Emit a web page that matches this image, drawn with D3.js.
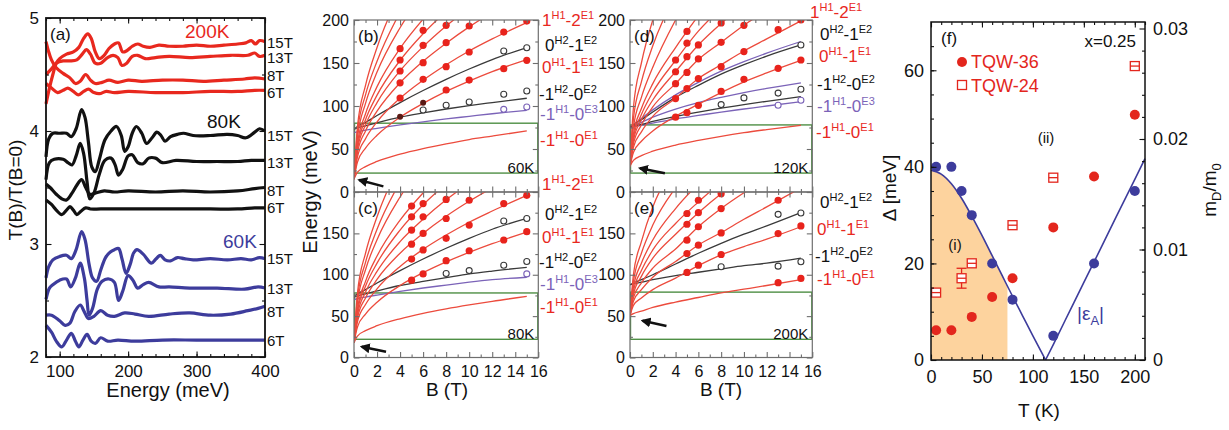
<!DOCTYPE html>
<html>
<head>
<meta charset="utf-8">
<script src="https://d3js.org/d3.v7.min.js"></script>
<style>
body { margin: 0; background: #fff; }
svg text { font-family: Arial, "Liberation Sans", Helvetica, sans-serif; }
</style>
</head>
<body>
<div class="demo"></div>
<script>
// ---------- panel (a) : T(B)/T(B=0) spectra, [energy meV, value] ----------
var s200_15 = [[80,4.24],[85,4.38],[90,4.5],[95,4.6],[100,4.64],[110,4.68],[120,4.7],[128,4.74],[135,4.82],[141,4.86],[146,4.82],[152,4.7],[158,4.64],[165,4.67],[172,4.73],[180,4.77],[186,4.78],[192,4.7],[198,4.71],[206,4.75],[214,4.77],[222,4.75],[232,4.74],[245,4.76],[260,4.75],[280,4.75],[300,4.76],[320,4.75],[340,4.76],[360,4.77],[372,4.78],[380,4.8],[386,4.77],[392,4.8],[400,4.79]];
var s200_13 = [[80,4.5],[88,4.55],[95,4.6],[105,4.62],[115,4.62],[125,4.63],[133,4.68],[139,4.72],[145,4.68],[152,4.6],[160,4.6],[170,4.65],[178,4.67],[185,4.65],[191,4.58],[198,4.6],[206,4.66],[214,4.67],[225,4.64],[240,4.65],[260,4.66],[290,4.65],[320,4.66],[350,4.67],[375,4.67],[385,4.69],[392,4.66],[400,4.67]];
var s200_8 = [[80,4.79],[83,4.72],[88,4.63],[95,4.56],[105,4.51],[115,4.47],[123,4.42],[130,4.44],[138,4.5],[145,4.45],[152,4.42],[162,4.43],[172,4.45],[185,4.43],[200,4.45],[220,4.44],[250,4.45],[280,4.45],[310,4.44],[340,4.45],[370,4.46],[385,4.47],[400,4.46]];
var s200_6 = [[80,4.42],[88,4.38],[97,4.34],[105,4.36],[112,4.38],[120,4.35],[127,4.32],[135,4.35],[142,4.37],[150,4.34],[158,4.33],[168,4.35],[180,4.34],[200,4.35],[240,4.34],[280,4.34],[320,4.35],[360,4.35],[385,4.36],[400,4.36]];
var s80_15 = [[80,3.77],[84,3.93],[90,3.98],[100,3.98],[110,3.98],[117,3.95],[124,4.02],[132,4.19],[137,4.12],[142,3.9],[147,3.68],[152,3.64],[158,3.75],[166,3.92],[175,4.0],[183,4.04],[190,3.96],[195,3.82],[200,3.86],[206,3.98],[212,4.04],[220,3.98],[227,3.89],[235,3.94],[242,3.99],[248,3.96],[254,3.91],[262,3.95],[272,3.97],[281,3.98],[295,3.96],[320,3.96],[345,3.97],[360,3.96],[372,3.94],[385,3.99],[392,4.02],[400,4.0]];
var s80_13 = [[80,3.57],[85,3.72],[92,3.75],[105,3.75],[112,3.72],[118,3.7],[124,3.78],[130,3.89],[135,3.8],[140,3.55],[144,3.4],[150,3.45],[158,3.62],[166,3.74],[175,3.76],[181,3.7],[186,3.61],[192,3.66],[200,3.78],[206,3.79],[214,3.72],[222,3.71],[230,3.76],[240,3.76],[250,3.72],[270,3.74],[300,3.73],[330,3.73],[360,3.73],[380,3.74],[400,3.74]];
var s80_8 = [[80,3.53],[86,3.5],[95,3.44],[103,3.4],[110,3.39],[118,3.45],[125,3.52],[132,3.57],[138,3.5],[144,3.44],[152,3.45],[165,3.47],[180,3.46],[200,3.47],[240,3.46],[280,3.47],[320,3.46],[360,3.47],[385,3.49],[400,3.5]];
var s80_6 = [[80,3.39],[88,3.35],[95,3.3],[103,3.26],[110,3.3],[115,3.33],[120,3.3],[125,3.26],[131,3.29],[138,3.32],[145,3.31],[160,3.31],[200,3.31],[260,3.31],[320,3.31],[360,3.31],[385,3.32],[400,3.32]];
var s60_15 = [[80,2.7],[84,2.8],[90,2.86],[100,2.89],[110,2.9],[117,2.87],[124,2.95],[132,3.11],[137,3.04],[143,2.82],[148,2.7],[154,2.67],[160,2.77],[167,2.88],[174,2.93],[180,2.95],[186,2.96],[191,2.87],[197,2.74],[203,2.82],[208,2.92],[213,2.95],[222,2.91],[234,2.83],[241,2.87],[247,2.9],[254,2.86],[262,2.85],[272,2.88],[282,2.87],[295,2.86],[320,2.87],[345,2.86],[365,2.87],[380,2.86],[392,2.88],[400,2.87]];
var s60_13 = [[80,2.51],[85,2.61],[90,2.64],[100,2.68],[110,2.69],[116,2.62],[123,2.7],[130,2.83],[136,2.7],[140,2.5],[143,2.37],[148,2.43],[155,2.6],[162,2.67],[172,2.69],[180,2.66],[186,2.5],[192,2.58],[200,2.72],[207,2.68],[214,2.61],[222,2.64],[230,2.66],[245,2.62],[260,2.62],[290,2.61],[330,2.61],[370,2.6],[390,2.62],[400,2.61]];
var s60_8 = [[80,2.37],[88,2.37],[100,2.32],[108,2.28],[115,2.3],[122,2.4],[130,2.46],[136,2.4],[142,2.34],[150,2.36],[160,2.41],[170,2.37],[180,2.36],[195,2.39],[210,2.38],[230,2.36],[260,2.38],[290,2.39],[320,2.37],[350,2.38],[375,2.41],[390,2.43],[400,2.45]];
var s60_6 = [[80,2.28],[88,2.22],[95,2.14],[103,2.09],[110,2.15],[117,2.21],[123,2.14],[128,2.09],[134,2.15],[140,2.2],[146,2.14],[152,2.12],[160,2.17],[170,2.14],[185,2.15],[210,2.14],[250,2.15],[300,2.15],[350,2.15],[380,2.15],[400,2.15]];
var aFieldLabels = ['15T', '13T', '8T', '6T'];
var aTempLabels = ['200K', '80K', '60K'];

// ---------- panels (b)-(e) : Landau level transitions ----------
var Bgrid = [0, 0.3, 1, 2, 4, 6, 8, 10, 12, 15];
var Bticks = [0, 2, 4, 6, 8, 10, 12, 14, 16];
var Eticks = [0, 50, 100, 150, 200];

// (b) 60K
var fan60 = [[15,23,29.5,35.5,44,50.5,56,61,65,71],[15,34.7,51,66,87,103,117,129,140,154],[15,40.8,62,81.5,109,130,148,164,178,197],[15,45.7,71,94,127,152,173,192,209],[15,49.5,78,104,141,169,193,214],[15,52.8,84,112.6,153,184,210],[15,56.6,91,122.5,167,201],[15,63,103,139.5,191,230.5],[15,70,113,152,209],[15,76,124,168,232]];
var black60 = [[73,76,81,89,104,118,131,143,154,168],[73,74.5,77,80.5,87,92,96.5,100.5,104,109]];
var purple60 = [[69,70,72,74,78,81.5,85,88,91,95]];
var dots60 = [[4,166.7],[4,153.5],[4,140.7],[4,127],[4,109.3],[6,188],[6,170.5],[6,150.4],[6,131],[8,193.8],[8,173.6],[8,145.7],[8,118.6],[10,193],[10,162.8],[10,130.2],[13,186],[13,143.4],[15,198.8],[15,153.1]];
var dark60 = [[4,87.6],[6,103.9]];
var open60 = [[6,95.3],[8,100.8],[10,104.7],[13,164],[13,113.6],[15,167.8],[15,117.4]];
var openP60 = [[13,96.1],[15,98.8]];
var box60 = [22, 80];
var arrow60 = [[2.55, 6.5], [0.45, 14]];

// (c) 80K
var fan80 = [[18,25.9,32.4,38.4,46.8,53.3,58.7,63.5,67.9,73.8],[18,36.9,52.5,66.8,87,102.5,115.6,127,137.5,151.6],[18,43.2,64,83,110,130.7,148,163.5,177,196],[18,47.6,72,94.4,126,150,170.7,188.8,205],[18,51.4,79,104,140,167,190.5,211],[18,55.3,86,114,154,184.5,210],[18,58.6,92,122.6,166,199,227],[18,66,106,142.4,194,233.5],[18,72,115,155,212],[18,78,126,170,235]];
var black80 = [[74,77,82,90,105,119,132,144,155,168],[73,74.5,77,80.5,87,92,96.5,101,104.5,109]];
var purple80 = [[70,71,73,75.5,80,84,87.5,91,94,97]];
var dots80 = [[5,183],[5,170],[5,154],[5,137],[5,119],[5,93.5],[6,186],[6,170],[6,150],[6,130],[6,101],[8,191],[8,168],[8,144],[8,117],[10,190],[10,160],[10,129],[13,186],[13,142],[15,196],[15,152]];
var dark80 = [];
var open80 = [[8,101.5],[10,105],[13,165],[13,111.4],[15,168],[15,116]];
var openP80 = [[15,101]];
var box80 = [22, 78];
var arrow80 = [[2.78, 7], [0.67, 13]];

// (d) 120K
var fan120 = [[30,36.7,42.3,47.4,54.6,60,64.8,69,72.6,77.6],[30,46,59,71,88,102,115.5,128,138.5,153],[30,52,70,88,109,132,148,164,178,199],[30,56,78,99,126,154,174,194,211],[30,60,84,107,140,171,196,218],[30,63,90,116,153,187,214],[30,67,97,126,168,205],[30,75,110,145,200],[30,85,128,170,230],[30,98,150,200]];
var black120 = [[75,78,84,93,110,124,137,148,158,171],[75,76.5,78.5,82,88,93,97.5,101.5,105.5,111]];
var purple120 = [[75,78.5,85.5,95.5,113,127.5,140.5,151.5,161.5,175],[75,77,81,87,96.5,104,110,115.5,120.5,127],[75,76,77.5,80,85,89,93,96.5,100,105]];
var dots120 = [[4,153.5],[4,139.8],[4,126],[4,108.6],[4,87],[5,186.7],[5,173],[5,157.4],[5,139],[5,120.3],[5,92.2],[6,171],[6,154.7],[6,132],[6,100.8],[8,196.5],[8,174],[8,145.7],[8,117],[10,193.8],[10,163.3],[10,131],[13,188.7],[13,143.8],[15,200],[15,153.5]];
var dark120 = [];
var open120 = [[8,101.6],[10,109.4],[13,115],[15,119.5],[15,171]];
var openP120 = [[13,100.8],[15,106.6]];
var box120 = [22, 78];
var arrow120 = [[3.06, 21.7], [0.87, 27.6]];

// (e) 200K
var fan200 = [[51,53,56,60.5,67,72.5,78,82.5,87,94],[51,63,72,82,96,111,124,134,143,158],[51,68,82,97,116,136,151,167,182,205],[51,72,90,108,131,158,180,199,216],[51,76,98,120,149,175,198,218],[51,80,105,130,162,188,212],[51,85,114,142,180,210],[51,92,126,160,205],[51,100,140,182,230]];
var black200 = [[88,90,94,100,113,126,138,149,159,175],[88,89,91,94,99,103,107,111,114,120]];
var purple200 = [];
var dots200 = [[5,174],[5,161],[5,141.8],[5,125.7],[5,102.8],[6,190],[6,175],[6,158],[6,135.7],[6,111.6],[8,198],[8,180],[8,150.6],[8,124.5],[13,190],[13,149.8],[13,90.4],[15,159],[15,95.6]];
var dark200 = [];
var open200 = [[8,109.6],[13,173],[13,110.4],[15,174.7],[15,115.7]];
var openP200 = [];
var box200 = [22, 79];
var arrow200 = [[3.2, 38], [1.1, 44.5]];

// ---------- panel (f) ----------
var fT_blue = [5, 20, 30, 40, 60, 80, 120, 160, 200];
var fD_blue = [40, 40, 35, 30, 20, 12.5, 5, 20, 35];
var fT_36 = [5, 20, 40, 60, 80, 120, 160, 200];
var fM_36 = [0.0027, 0.0027, 0.0039, 0.0057, 0.0074, 0.012, 0.0166, 0.0222];
var fT_24 = [5, 30, 40, 80, 120, 200];
var fM_24 = [0.0061, 0.0074, 0.00875, 0.0122, 0.0165, 0.0266];
var fErr_24 = [0, 0.0009, 0, 0, 0, 0];
var epsT = [0, 10, 20, 30, 40, 50, 60, 70, 80, 90, 100, 112.4, 120, 140, 160, 180, 200, 210];
var epsD = [39.3, 38.5, 36.5, 33.5, 29.8, 25.8, 21.6, 17.4, 13.2, 9.1, 5, 0, 3.2, 11.8, 20.3, 28.9, 37.4, 41.7];
var fillEndT = 75;

var RED = '#e8281e', BLK = '#111', BLU = '#3d3c9c';
var FANRED = '#ec4b3d', LBLK = '#3a3a3a', PUR = '#7b63b8', GRN = '#4f8f45', FRAME = '#6e6e6e';

var svg = d3.select('.demo').append('svg').attr('width', 1229).attr('height', 430);
var defs = svg.append('defs');
defs.append('marker').attr('id', 'arr').attr('viewBox', '0 0 10 10').attr('refX', 8).attr('refY', 5)
  .attr('markerWidth', 4).attr('markerHeight', 4).attr('orient', 'auto')
  .append('path').attr('d', 'M0,0 L10,5 L0,10 z').attr('fill', '#111');

function noLab() { return ''; }
function ax(gen, sc, vals, len, tx, ty, fmt, pad, fs, col) {
  var g = svg.append('g').attr('transform', 'translate(' + tx + ',' + ty + ')')
    .call(gen(sc).tickValues(vals).tickSize(-len).tickPadding(pad).tickFormat(fmt || noLab));
  g.select('.domain').remove();
  g.selectAll('line').attr('stroke', col).attr('stroke-width', 1.1);
  g.selectAll('text').attr('font-size', fs).attr('fill', '#111');
  return g;
}
// frame with inward ticks on all four sides
function frameAxes(x, y, o) {
  var X0 = x.range()[0], X1 = x.range()[1], Y0 = y.range()[0], Y1 = y.range()[1];
  var yr = o.y2 || y;
  ax(d3.axisBottom, x, o.xMin, 3, 0, Y0, null, 0, 0, o.col);
  ax(d3.axisBottom, x, o.xMaj, 5.5, 0, Y0, o.xFmt, o.xPad, o.fs, o.col);
  ax(d3.axisTop, x, o.xMin, 3, 0, Y1, null, 0, 0, o.col);
  ax(d3.axisTop, x, o.xMaj, 5.5, 0, Y1, null, 0, 0, o.col);
  ax(d3.axisLeft, y, o.yMin, 3, X0, 0, null, 0, 0, o.col);
  ax(d3.axisLeft, y, o.yMaj, 5.5, X0, 0, o.yFmt, o.yPad, o.fs, o.col);
  ax(d3.axisRight, yr, o.y2Min || o.yMin, 3, X1, 0, null, 0, 0, o.col);
  ax(d3.axisRight, yr, o.y2Maj || o.yMaj, 5.5, X1, 0, o.y2Fmt, o.y2Pad || 0, o.fs, o.col);
  svg.append('rect').attr('x', X0).attr('y', Y1).attr('width', X1 - X0).attr('height', Y0 - Y1)
    .attr('fill', 'none').attr('stroke', o.col).attr('stroke-width', o.sw);
}
function txt(x, y, s, o) {
  o = o || {};
  return svg.append('text').attr('x', x).attr('y', y).text(s)
    .attr('font-size', o.fs || 16).attr('fill', o.fill || BLK).attr('text-anchor', o.anchor || 'start');
}
// label like 0^{H1}-1^{E1}
function supLabel(x, y, parts, col) {
  var t = svg.append('text').attr('x', x).attr('y', y).attr('fill', col).attr('font-size', 17);
  var up = false;
  parts.forEach(function (p) {
    if (p.charAt(0) == '^') {
      t.append('tspan').attr('font-size', 11).attr('dy', up ? 0 : -7).text(p.slice(1));
      up = true;
    } else {
      t.append('tspan').attr('dy', up ? 7 : 0).text(p);
      up = false;
    }
  });
}

// ================= panel (a) =================
var xA = d3.scaleLinear().domain([80, 400]).range([46, 265]);
var yA = d3.scaleLinear().domain([2, 5]).range([357, 18]);
var lineA = d3.line().x(function (d) { return xA(d[0]); }).y(function (d) { return yA(d[1]); }).curve(d3.curveCatmullRom);
var aSeries = [[s200_15, RED], [s200_13, RED], [s200_8, RED], [s200_6, RED],
  [s80_15, BLK], [s80_13, BLK], [s80_8, BLK], [s80_6, BLK],
  [s60_15, BLU], [s60_13, BLU], [s60_8, BLU], [s60_6, BLU]];
svg.append('g').selectAll('path').data(aSeries).enter().append('path')
  .attr('d', function (d) { return lineA(d[0]); })
  .attr('fill', 'none').attr('stroke', function (d) { return d[1]; })
  .attr('stroke-width', 3.2).attr('stroke-linejoin', 'round');
frameAxes(xA, yA, {
  xMaj: [100, 200, 300, 400], xMin: d3.range(80, 401, 20), yMaj: [2, 3, 4, 5], yMin: [2.5, 3.5, 4.5],
  xFmt: d3.format('d'), yFmt: d3.format('d'), xPad: 8, yPad: 7, fs: 17, col: '#111', sw: 1.8
});
txt(50, 40, '(a)', { fs: 17 });
var aTempPos = [[185, 38, RED], [207, 128, BLK], [223, 248, BLU]];
aTempLabels.forEach(function (s, i) { txt(aTempPos[i][0], aTempPos[i][1], s, { fs: 19, fill: aTempPos[i][2] }); });
var aFieldY = [[48, 63, 81, 98], [141, 168, 196, 213], [264, 294, 317, 346]];
aFieldY.forEach(function (row) {
  row.forEach(function (yy, j) { txt(267, yy, aFieldLabels[j], { fs: 15 }); });
});
txt(168, 397, 'Energy (meV)', { fs: 20, anchor: 'middle' });
txt(0, 0, 'T(B)/T(B=0)', { fs: 19, anchor: 'middle' }).attr('transform', 'translate(22,190) rotate(-90)');

// ================= panels (b)-(e) =================
function levels(p) {
  var x = p.x, y = p.y;
  var X0 = x.range()[0], X1 = x.range()[1], Y0 = y.range()[0], Y1 = y.range()[1];
  var cid = 'clip' + p.tag.replace(/[()]/g, '');
  defs.append('clipPath').attr('id', cid).append('rect').attr('x', X0).attr('y', Y1).attr('width', X1 - X0).attr('height', Y0 - Y1);
  var g = svg.append('g').attr('clip-path', 'url(#' + cid + ')');
  g.append('rect').attr('x', x(0) + 0.5).attr('y', y(p.box[1])).attr('width', x(16) - x(0) - 1).attr('height', y(p.box[0]) - y(p.box[1]))
    .attr('fill', 'none').attr('stroke', GRN).attr('stroke-width', 1.4);
  var line = d3.line().x(function (d, i) { return x(Bgrid[i]); }).y(function (d) { return y(d); }).curve(d3.curveMonotoneX);
  g.selectAll('path.pu').data(p.purple).enter().append('path').attr('class', 'pu')
    .attr('d', function (d) { return line(d); }).attr('fill', 'none').attr('stroke', PUR).attr('stroke-width', 1.3);
  g.selectAll('path.bk').data(p.black).enter().append('path').attr('class', 'bk')
    .attr('d', function (d) { return line(d); }).attr('fill', 'none').attr('stroke', LBLK).attr('stroke-width', 1.3);
  g.selectAll('path.fan').data(p.fan).enter().append('path').attr('class', 'fan')
    .attr('d', function (d) { return line(d); }).attr('fill', 'none').attr('stroke', FANRED).attr('stroke-width', 1.3);
  g.selectAll('circle.rd').data(p.dots).enter().append('circle').attr('class', 'rd')
    .attr('cx', function (d) { return x(d[0]); }).attr('cy', function (d) { return y(d[1]); }).attr('r', 3.6).attr('fill', '#e8231c');
  g.selectAll('circle.dk').data(p.dark).enter().append('circle').attr('class', 'dk')
    .attr('cx', function (d) { return x(d[0]); }).attr('cy', function (d) { return y(d[1]); }).attr('r', 3).attr('fill', '#5a1a14');
  g.selectAll('circle.op').data(p.open).enter().append('circle').attr('class', 'op')
    .attr('cx', function (d) { return x(d[0]); }).attr('cy', function (d) { return y(d[1]); }).attr('r', 3)
    .attr('fill', '#fff').attr('stroke', LBLK).attr('stroke-width', 1.1);
  g.selectAll('circle.opp').data(p.openP).enter().append('circle').attr('class', 'opp')
    .attr('cx', function (d) { return x(d[0]); }).attr('cy', function (d) { return y(d[1]); }).attr('r', 3)
    .attr('fill', '#fff').attr('stroke', PUR).attr('stroke-width', 1.1);
  svg.append('line').attr('x1', x(p.arrow[0][0])).attr('y1', y(p.arrow[0][1]))
    .attr('x2', x(p.arrow[1][0])).attr('y2', y(p.arrow[1][1]))
    .attr('stroke', '#111').attr('stroke-width', 2.5).attr('marker-end', 'url(#arr)');
  frameAxes(x, y, {
    xMaj: Bticks, xMin: d3.range(1, 16, 2), yMaj: Eticks, yMin: [25, 75, 125, 175],
    xFmt: p.showX ? d3.format('d') : null, xPad: 8,
    yFmt: p.showX ? function (d) { return d == 200 ? '' : d; } : d3.format('d'), yPad: 5,
    fs: 16, col: FRAME, sw: 1.2
  });
  txt(X0 + 4, Y1 + 22, p.tag, { fs: 17 });
  txt(X1 - 4, Y0 - 19, p.temp, { fs: 15, anchor: 'end' });
}
var xBC = d3.scaleLinear().domain([0, 16]).range([354, 538.3]);
var xDE = d3.scaleLinear().domain([0, 16]).range([630, 812.3]);
var yTop = d3.scaleLinear().domain([0, 200]).range([192, 20]);
var yBot = d3.scaleLinear().domain([0, 200]).range([357.5, 192]);

levels({ x: xBC, y: yTop, tag: '(b)', temp: '60K', fan: fan60, black: black60, purple: purple60, dots: dots60, dark: dark60, open: open60, openP: openP60, box: box60, arrow: arrow60, showX: false });
levels({ x: xBC, y: yBot, tag: '(c)', temp: '80K', fan: fan80, black: black80, purple: purple80, dots: dots80, dark: dark80, open: open80, openP: openP80, box: box80, arrow: arrow80, showX: true });
levels({ x: xDE, y: yTop, tag: '(d)', temp: '120K', fan: fan120, black: black120, purple: purple120, dots: dots120, dark: dark120, open: open120, openP: openP120, box: box120, arrow: arrow120, showX: false });
levels({ x: xDE, y: yBot, tag: '(e)', temp: '200K', fan: fan200, black: black200, purple: purple200, dots: dots200, dark: dark200, open: open200, openP: openP200, box: box200, arrow: arrow200, showX: true });

// transition labels
var L12 = ['1', '^H1', '-2', '^E1'], L01b = ['0', '^H2', '-1', '^E2'], L01 = ['0', '^H1', '-1', '^E1'];
var L10b = ['-1', '^H2', '-0', '^E2'], L10p = ['-1', '^H1', '-0', '^E3'], L10 = ['-1', '^H1', '-0', '^E1'];
supLabel(542, 26, L12, RED); supLabel(545, 51, L01b, BLK); supLabel(542, 73, L01, RED);
supLabel(539, 100, L10b, BLK); supLabel(540, 120, L10p, PUR); supLabel(540, 146, L10, RED);
supLabel(542, 190, L12, RED); supLabel(545, 220, L01b, BLK); supLabel(542, 243, L01, RED);
supLabel(539, 268, L10b, BLK); supLabel(540, 290, L10p, PUR); supLabel(540, 313, L10, RED);
supLabel(810, 18, L12, RED); supLabel(820, 40, L01b, BLK); supLabel(819, 62, L01, RED);
supLabel(817, 90, L10b, BLK); supLabel(817, 112, L10p, PUR); supLabel(816, 138, L10, RED);
supLabel(820, 208, L01b, BLK); supLabel(817, 235, L01, RED); supLabel(815, 262, L10b, BLK); supLabel(817, 285, L10, RED);

txt(447, 396, 'B (T)', { fs: 19, anchor: 'middle' });
txt(721, 396, 'B (T)', { fs: 19, anchor: 'middle' });
txt(0, 0, 'Energy (meV)', { fs: 20, anchor: 'middle' }).attr('transform', 'translate(317,192) rotate(-90)');

// ================= panel (f) =================
var xF = d3.scaleLinear().domain([0, 210]).range([931, 1145]);
var yF = d3.scaleLinear().domain([0, 70]).range([360, 22]);
var yF2 = d3.scaleLinear().domain([0, 0.03]).range([360, 28.5]);
var zi = epsD.indexOf(0);
var epsPts = epsT.map(function (t, i) { return [t, epsD[i]]; });
var k = d3.bisectRight(epsT, fillEndT);
var fillPts = epsPts.slice(0, k);
fillPts.push([fillEndT, d3.interpolateNumber(epsD[k - 1], epsD[k])((fillEndT - epsT[k - 1]) / (epsT[k] - epsT[k - 1]))]);
svg.append('path').datum(fillPts)
  .attr('d', d3.area().x(function (d) { return xF(d[0]); }).y0(yF(0)).y1(function (d) { return yF(d[1]); }).curve(d3.curveMonotoneX))
  .attr('fill', '#fdd39e');
var lineF = d3.line().x(function (d) { return xF(d[0]); }).y(function (d) { return yF(d[1]); }).curve(d3.curveMonotoneX);
[epsPts.slice(0, zi + 1), epsPts.slice(zi)].forEach(function (seg) {
  svg.append('path').datum(seg).attr('d', lineF).attr('fill', 'none').attr('stroke', BLU).attr('stroke-width', 1.6);
});
svg.append('g').selectAll('circle').data(fT_blue).enter().append('circle')
  .attr('cx', function (d) { return xF(d); }).attr('cy', function (d, i) { return yF(fD_blue[i]); })
  .attr('r', 5).attr('fill', BLU);
svg.append('g').selectAll('circle').data(fT_36).enter().append('circle')
  .attr('cx', function (d) { return xF(d); }).attr('cy', function (d, i) { return yF2(fM_36[i]); })
  .attr('r', 5).attr('fill', '#e3261d');
var sq = svg.append('g').selectAll('g').data(fT_24).enter().append('g')
  .attr('transform', function (d, i) { return 'translate(' + xF(d) + ',' + yF2(fM_24[i]) + ')'; });
sq.append('line').attr('x1', 0).attr('x2', 0)
  .attr('y1', function (d, i) { return yF2(fM_24[i] + fErr_24[i]) - yF2(fM_24[i]); })
  .attr('y2', function (d, i) { return yF2(fM_24[i] - fErr_24[i]) - yF2(fM_24[i]); })
  .attr('stroke', '#e3261d').attr('stroke-width', 1.3);
sq.filter(function (d, i) { return fErr_24[i] > 0; }).each(function (d) {
  var j = fT_24.indexOf(d);
  var g = d3.select(this);
  [fM_24[j] + fErr_24[j], fM_24[j] - fErr_24[j]].forEach(function (v) {
    g.append('line').attr('x1', -5).attr('x2', 5).attr('y1', yF2(v) - yF2(fM_24[j])).attr('y2', yF2(v) - yF2(fM_24[j]))
      .attr('stroke', '#e3261d').attr('stroke-width', 1.3);
  });
});
sq.append('rect').attr('x', -4.5).attr('y', -4.5).attr('width', 9).attr('height', 9)
  .attr('fill', '#fff').attr('stroke', '#e3261d').attr('stroke-width', 1.3);
sq.append('line').attr('x1', -4.5).attr('x2', 4.5).attr('y1', 0).attr('y2', 0).attr('stroke', '#e3261d').attr('stroke-width', 1.3);

frameAxes(xF, yF, {
  xMaj: [0, 50, 100, 150, 200], xMin: d3.range(10, 211, 10), yMaj: [0, 20, 40, 60], yMin: d3.range(5, 70, 5),
  y2: yF2, y2Maj: [0, 0.01, 0.02, 0.03], y2Min: d3.range(0.002, 0.03, 0.002),
  y2Fmt: function (d) { return d == 0 ? '0' : d3.format('.2f')(d); }, y2Pad: 8,
  xFmt: d3.format('d'), yFmt: d3.format('d'), xPad: 10, yPad: 7, fs: 18, col: '#111', sw: 1.5
});
txt(941, 44, '(f)', { fs: 17 });
txt(1136, 47, 'x=0.25', { fs: 17, anchor: 'end' });
svg.append('circle').attr('cx', 962).attr('cy', 62).attr('r', 5).attr('fill', '#e3261d');
txt(971, 68, 'TQW-36', { fs: 18, fill: '#e3261d' });
svg.append('rect').attr('x', 957.5).attr('y', 80.5).attr('width', 9).attr('height', 9).attr('fill', '#fff').attr('stroke', '#e3261d').attr('stroke-width', 1.3);
txt(971, 92, 'TQW-24', { fs: 18, fill: '#e3261d' });
txt(1046, 143, '(ii)', { fs: 15, anchor: 'middle' });
txt(955, 250, '(i)', { fs: 15, anchor: 'middle' });
var eps = txt(1077, 320, '|ε', { fs: 19, fill: BLU });
eps.append('tspan').attr('font-size', 13).attr('dy', 5).text('A');
eps.append('tspan').attr('dy', -5).text('|');
txt(1039, 417, 'T (K)', { fs: 19, anchor: 'middle' });
txt(0, 0, 'Δ [meV]', { fs: 19, anchor: 'middle' }).attr('transform', 'translate(896,188) rotate(-90)');
var md = txt(0, 0, 'm', { fs: 19, anchor: 'middle' }).attr('transform', 'translate(1216,190) rotate(-90)');
md.append('tspan').attr('font-size', 13).attr('dy', 5).text('D');
md.append('tspan').attr('dy', -5).text('/m');
md.append('tspan').attr('font-size', 13).attr('dy', 5).text('0');
</script>
</body>
</html>
